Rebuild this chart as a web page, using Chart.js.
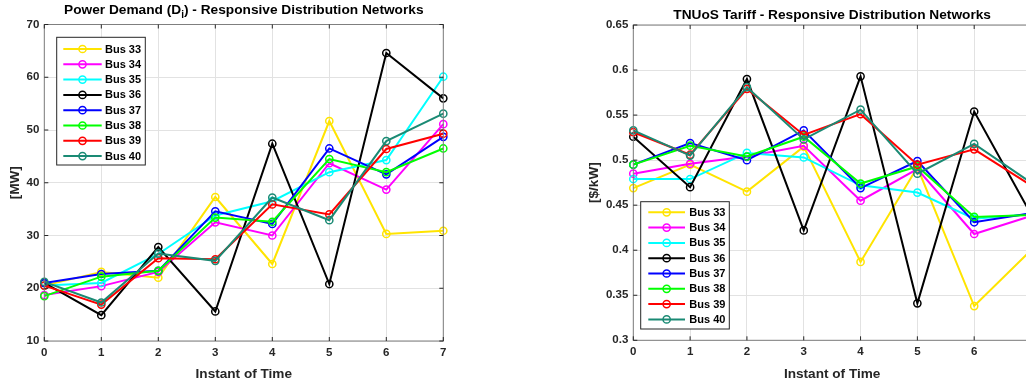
<!DOCTYPE html>
<html><head><meta charset="utf-8">
<script src="https://cdn.jsdelivr.net/npm/chart.js@4.4.0/dist/chart.umd.min.js"></script>
<style>
html,body{margin:0;padding:0;background:#fff;overflow:hidden;width:1026px;height:386px;}
#wrap{position:relative;width:1026px;height:386px;overflow:hidden;background:#fff;}
#c1{position:absolute;left:0;top:0;}
#c2{position:absolute;left:513px;top:0;}
</style></head><body>
<div id="wrap"><canvas id="c1" width="513" height="386"></canvas><canvas id="c2" width="560" height="386"></canvas></div>
<script>
// ---------------- data ----------------
const timeInstants = [0, 1, 2, 3, 4, 5, 6, 7];
const busNames = ['Bus 33', 'Bus 34', 'Bus 35', 'Bus 36', 'Bus 37', 'Bus 38', 'Bus 39', 'Bus 40'];
const busColors = ['#FFE400', '#FF00FF', '#00FFFF', '#000000', '#0000FF', '#00FF00', '#FF0000', '#1A8A74'];

// Power demand [MW]
const demandBus33 = [20.5, 23.1, 22.0, 37.3, 24.6, 51.7, 30.3, 30.9];
const demandBus34 = [18.7, 20.4, 23.1, 32.5, 30.0, 43.7, 38.7, 51.1];
const demandBus35 = [20.5, 21.0, 26.5, 33.8, 36.5, 42.0, 44.3, 60.1];
const demandBus36 = [21.0, 14.9, 27.8, 15.6, 47.4, 20.8, 64.6, 56.0];
const demandBus37 = [21.0, 22.7, 23.3, 34.6, 32.2, 46.5, 41.6, 48.7];
const demandBus38 = [18.5, 22.2, 23.3, 33.4, 32.6, 44.5, 42.0, 46.5];
const demandBus39 = [20.5, 16.9, 25.7, 25.5, 35.9, 34.0, 46.4, 49.3];
const demandBus40 = [21.2, 17.3, 26.6, 25.2, 37.2, 32.9, 47.9, 53.1];

// TNUoS tariff [$/kW]
const tariffBus33 = [0.469, 0.495, 0.465, 0.515, 0.387, 0.492, 0.338, 0.400];
const tariffBus34 = [0.485, 0.496, 0.504, 0.516, 0.455, 0.490, 0.418, 0.438];
const tariffBus35 = [0.479, 0.479, 0.508, 0.503, 0.472, 0.464, 0.435, 0.440];
const tariffBus36 = [0.526, 0.470, 0.590, 0.422, 0.593, 0.341, 0.554, 0.440];
const tariffBus37 = [0.495, 0.519, 0.500, 0.533, 0.469, 0.499, 0.431, 0.441];
const tariffBus38 = [0.495, 0.516, 0.504, 0.526, 0.474, 0.493, 0.437, 0.439];
const tariffBus39 = [0.531, 0.506, 0.579, 0.528, 0.551, 0.495, 0.512, 0.472];
const tariffBus40 = [0.533, 0.505, 0.581, 0.523, 0.556, 0.485, 0.518, 0.475];

// ticks
const timeTicks = [0, 1, 2, 3, 4, 5, 6, 7];
const demandTicks = [10, 20, 30, 40, 50, 60, 70];
const demandTickLabels = ['10', '20', '30', '40', '50', '60', '70'];
const tariffTicks = [0.3, 0.35, 0.4, 0.45, 0.5, 0.55, 0.6, 0.65];
const tariffTickLabels = ['0.3', '0.35', '0.4', '0.45', '0.5', '0.55', '0.6', '0.65'];

const demandSeries = [demandBus33, demandBus34, demandBus35, demandBus36, demandBus37, demandBus38, demandBus39, demandBus40];
const tariffSeries = [tariffBus33, tariffBus34, tariffBus35, tariffBus36, tariffBus37, tariffBus38, tariffBus39, tariffBus40];

// ---------------- drawing ----------------
const FONT = '"Liberation Sans", Arial, Helvetica, sans-serif';
const AXIS_COLOR = '#262626';

function buildDatasets(series) {
  return series.map((vals, i) => ({
    label: busNames[i],
    data: vals.map((v, k) => ({ x: timeInstants[k], y: v })),
    borderColor: busColors[i],
    backgroundColor: 'rgba(0,0,0,0)',
    pointBackgroundColor: 'rgba(0,0,0,0)',
    pointBorderColor: busColors[i],
    borderWidth: 2,
    pointRadius: 3.6,
    pointBorderWidth: 1.5,
    tension: 0,
    clip: false,
    order: series.length - i
  }));
}

function framePlugin(cfg) {
  return {
    id: 'frame' + cfg.id,
    afterDraw(chart) {
      const ctx = chart.ctx;
      const a = chart.chartArea;
      const xs = chart.scales.x, ys = chart.scales.y;
      ctx.save();
      // axes box
      ctx.strokeStyle = '#7f7f7f';
      ctx.lineWidth = 1;
      ctx.strokeRect(a.left, a.top, a.right - a.left, a.bottom - a.top);
      // inward tick marks
      ctx.strokeStyle = AXIS_COLOR;
      ctx.beginPath();
      const tl = 4;
      timeTicks.forEach(t => {
        const px = xs.getPixelForValue(t);
        ctx.moveTo(px, a.bottom); ctx.lineTo(px, a.bottom - tl);
        ctx.moveTo(px, a.top); ctx.lineTo(px, a.top + tl);
      });
      cfg.yTicks.forEach(t => {
        const py = ys.getPixelForValue(t);
        ctx.moveTo(a.left, py); ctx.lineTo(a.left + tl, py);
        ctx.moveTo(a.right, py); ctx.lineTo(a.right - tl, py);
      });
      ctx.stroke();

      // title
      ctx.fillStyle = '#000';
      ctx.textBaseline = 'alphabetic';
      const cx = (a.left + a.right) / 2;
      const tf = 'bold 13.7px ' + FONT;
      const sf = 'bold 10px ' + FONT;
      if (cfg.titleParts) {
        ctx.font = tf; const w1 = ctx.measureText(cfg.titleParts[0]).width;
        const w3 = ctx.measureText(cfg.titleParts[2]).width;
        ctx.font = sf; const w2 = ctx.measureText(cfg.titleParts[1]).width;
        let x = cx - (w1 + w2 + w3) / 2;
        ctx.textAlign = 'left';
        ctx.font = tf; ctx.fillText(cfg.titleParts[0], x, cfg.titleY); x += w1;
        ctx.font = sf; ctx.fillText(cfg.titleParts[1], x, cfg.titleY + 4); x += w2;
        ctx.font = tf; ctx.fillText(cfg.titleParts[2], x, cfg.titleY);
      } else {
        ctx.font = tf; ctx.textAlign = 'center';
        ctx.fillText(cfg.title, cx, cfg.titleY);
      }
      // x axis title
      ctx.fillStyle = AXIS_COLOR;
      ctx.font = 'bold 13.6px ' + FONT;
      ctx.textAlign = 'center';
      ctx.fillText('Instant of Time', cx, 378);
      // y axis title
      ctx.save();
      ctx.translate(cfg.yTitleX, (a.top + a.bottom) / 2);
      ctx.rotate(-Math.PI / 2);
      ctx.textBaseline = 'middle';
      ctx.fillText(cfg.yTitle, 0, 0);
      ctx.restore();

      // legend
      const L = cfg.legend;
      ctx.fillStyle = '#ffffff';
      ctx.fillRect(L.x, L.y, L.w, L.h);
      ctx.strokeStyle = AXIS_COLOR;
      ctx.lineWidth = 1;
      ctx.strokeRect(L.x, L.y, L.w, L.h);
      ctx.font = 'bold 11px ' + FONT;
      ctx.textAlign = 'left';
      ctx.textBaseline = 'middle';
      chart.data.datasets.forEach((ds, i) => {
        const y = L.row0 + i * L.step;
        ctx.strokeStyle = ds.borderColor;
        ctx.lineWidth = 2;
        ctx.beginPath(); ctx.moveTo(L.lx0, y); ctx.lineTo(L.lx1, y); ctx.stroke();
        ctx.lineWidth = 1.5;
        ctx.beginPath(); ctx.arc((L.lx0 + L.lx1) / 2, y, 3.6, 0, Math.PI * 2); ctx.stroke();
        ctx.fillStyle = '#000';
        ctx.fillText(ds.label, L.tx, y + 0.5);
      });
      ctx.restore();
    }
  };
}

function makeChart(canvasId, series, cfg) {
  return new Chart(document.getElementById(canvasId), {
    type: 'line',
    data: { datasets: buildDatasets(series) },
    options: {
      responsive: false,
      animation: false,
      devicePixelRatio: 1,
      layout: { padding: { left: 0, top: cfg.top, right: cfg.right, bottom: 0 } },
      plugins: { legend: { display: false }, title: { display: false }, tooltip: { enabled: false } },
      scales: {
        x: {
          type: 'linear', min: 0, max: 7,
          afterBuildTicks: s => { s.ticks = timeTicks.map(v => ({ value: v })); },
          afterFit: s => { s.height = cfg.xH; },
          grid: { color: '#e2e2e2', lineWidth: 1, drawTicks: false },
          border: { display: false },
          ticks: { padding: 5, color: AXIS_COLOR, font: { family: FONT, size: 11.5, weight: 'bold' },
                   callback: (v, i) => String(timeTicks[i]), maxRotation: 0, autoSkip: false }
        },
        y: {
          type: 'linear', min: cfg.yMin, max: cfg.yMax,
          afterBuildTicks: s => { s.ticks = cfg.yTicks.map(v => ({ value: v })); },
          afterFit: s => { s.width = cfg.yW; },
          grid: { color: '#e2e2e2', lineWidth: 1, drawTicks: false },
          border: { display: false },
          ticks: { padding: 5, color: AXIS_COLOR, font: { family: FONT, size: 11.5, weight: 'bold' },
                   callback: (v, i) => cfg.yLabels[i], autoSkip: false }
        }
      }
    },
    plugins: [framePlugin(cfg)]
  });
}

makeChart('c1', demandSeries, {
  id: 1, top: 24.5, right: 69.7, xH: 45, yW: 44.3,
  yMin: 10, yMax: 70, yTicks: demandTicks, yLabels: demandTickLabels,
  titleParts: ['Power Demand (D', 'i', ') - Responsive Distribution Networks'], titleY: 14,
  yTitle: '[MW]', yTitleX: 15.5,
  legend: { x: 56.7, y: 37.3, w: 88.6, h: 127.7, lx0: 63.3, lx1: 101.7, tx: 105, row0: 49, step: 15.3 }
});

makeChart('c2', tariffSeries, {
  id: 2, top: 25, right: 42, xH: 45.7, yW: 120.3,
  yMin: 0.3, yMax: 0.65, yTicks: tariffTicks, yLabels: tariffTickLabels,
  title: 'TNUoS Tariff - Responsive Distribution Networks', titleY: 19.3,
  yTitle: '[$/kW]', yTitleX: 81.5,
  legend: { x: 127.7, y: 201.7, w: 88.6, h: 127.3, lx0: 135.3, lx1: 172, tx: 176.3, row0: 212.3, step: 15.3 }
});
</script>
</body></html>
